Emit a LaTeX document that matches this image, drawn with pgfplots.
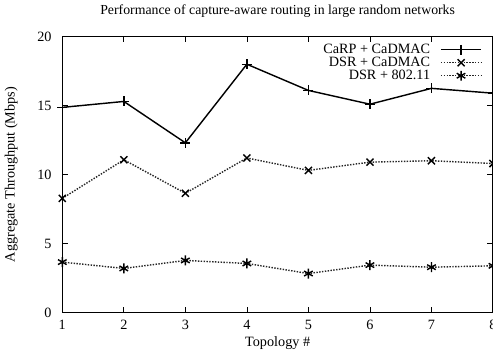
\documentclass[border=0pt]{standalone}
\usepackage{fontspec}
\setmainfont{Liberation Serif}
\usepackage{pgfplots}
\pgfplotsset{compat=1.18}
\begin{document}
\begin{tikzpicture}[trim axis right]
\begin{axis}[
  scale only axis,
  width=303pt, height=194pt,
  xmin=1, xmax=8, ymin=0, ymax=20,
  xtick={1,...,8}, ytick={0,5,10,15,20},
  /pgf/number format/assume math mode=true,
  tick style={black, line width=0.5pt},
  major tick length=4pt,
  axis line style={line width=0.8pt},
  yticklabel style={xshift=-4pt},
  xticklabel style={yshift=-2pt},
  title={Performance of capture-aware routing in large random networks},
  title style={font=\fontsize{9.7}{11}\selectfont, yshift=4pt},
  xlabel={Topology \#},
  ylabel={Aggregate Throughput (Mbps)},
  xlabel style={yshift=2pt},
  ylabel style={yshift=7pt},
  legend style={draw=none, fill=none, at={(0.985,0.995)}, anchor=north east,
    cells={anchor=east}, row sep=-3pt, font=\normalsize,
    /tikz/every odd column/.append style={column sep=5pt},
    legend image code/.code={\draw[mark repeat=2,mark phase=2,#1] plot coordinates {(0cm,0cm) (0.5cm,0cm) (1cm,0cm)};}},
  legend plot pos=right,
]
\addplot[black, line width=1pt, mark=+, mark size=3.5pt, mark options={solid}] coordinates {
(1,14.87) (2,15.3) (3,12.3) (4,18.0) (5,16.1) (6,15.1) (7,16.25) (8,15.9)};
\addlegendentry{CaRP + CaDMAC}
\addplot[black!85, line width=1pt, densely dotted, mark=x, mark size=3.5pt, mark options={solid, black}] coordinates {
(1,8.27) (2,11.07) (3,8.64) (4,11.2) (5,10.3) (6,10.9) (7,11.0) (8,10.8)};
\addlegendentry{DSR + CaDMAC}
\addplot[black!85, line width=1pt, densely dotted, mark=asterisk, mark size=3.5pt, mark options={solid, black}] coordinates {
(1,3.65) (2,3.19) (3,3.77) (4,3.55) (5,2.82) (6,3.43) (7,3.28) (8,3.38)};
\addlegendentry{DSR + 802.11}
\end{axis}
\end{tikzpicture}
\end{document}
